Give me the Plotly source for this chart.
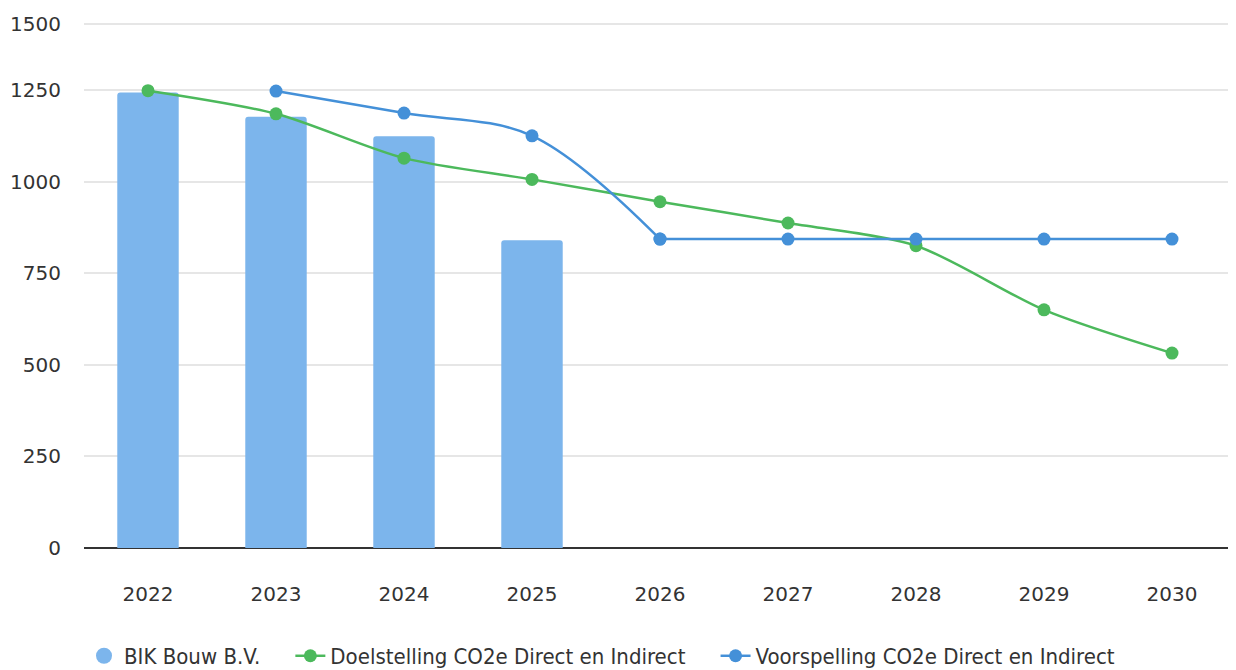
import plotly.graph_objects as go

years = ["2022", "2023", "2024", "2025", "2026", "2027", "2028", "2029", "2030"]
bar_years = ["2022", "2023", "2024", "2025"]
bik_bouw = [1243, 1177, 1124, 840]
doelstelling = [1248, 1185, 1064, 1006, 945, 887, 825, 650, 532]
voorspelling_years = ["2023", "2024", "2025", "2026", "2027", "2028", "2029", "2030"]
voorspelling = [1247, 1187, 1125, 843, 843, 843, 843, 843]

y_ticks = [0, 250, 500, 750, 1000, 1250]
y_top_tick = 1430   # top gridline, labelled 1500 as in the source chart
y_max = 1441

BAR_C = "#7cb5ec"
GREEN = "#4cb95c"
BLUE = "#4490d8"
NB = "\u00a0"

fig = go.Figure()
fig.add_trace(go.Bar(x=bar_years, y=bik_bouw, marker_color=BAR_C, name="BIK Bouw B.V.",
                     showlegend=False, marker_line_width=0))
fig.add_trace(go.Scatter(x=[None], y=[None], mode="markers", name="BIK Bouw B.V." + NB * 4,
                         marker=dict(color=BAR_C, size=18, symbol="circle")))
fig.add_trace(go.Scatter(x=years, y=doelstelling, mode="lines+markers",
                         name="Doelstelling CO2e Direct en Indirect" + NB * 4,
                         line=dict(color=GREEN, width=2.5, shape="spline", smoothing=0.8),
                         marker=dict(color=GREEN, size=13)))
# forecast: curved part up to 2026, then flat part
fig.add_trace(go.Scatter(x=voorspelling_years[:4], y=voorspelling[:4], mode="lines+markers",
                         name="Voorspelling CO2e Direct en Indirect",
                         line=dict(color=BLUE, width=2.5, shape="spline", smoothing=1.0),
                         marker=dict(color=BLUE, size=13)))
fig.add_trace(go.Scatter(x=voorspelling_years[3:], y=voorspelling[3:], mode="lines+markers",
                         showlegend=False, name="Voorspelling CO2e Direct en Indirect",
                         line=dict(color=BLUE, width=2.5),
                         marker=dict(color=BLUE, size=13)))

fig.update_layout(
    width=1228, height=662,
    margin=dict(l=76, r=0, t=12, b=122, autoexpand=False),
    paper_bgcolor="white", plot_bgcolor="white",
    bargap=0.52,
    barcornerradius=3,
    font=dict(family="DejaVu Sans", size=20, color="#333333"),
    xaxis=dict(type="category", categoryorder="array", categoryarray=years,
               range=[-0.5, 8.5], showgrid=False, showline=False, ticks="",
               automargin=False,
               tickfont=dict(size=20, color="#333333"), ticklabelstandoff=32),
    yaxis=dict(range=[0, y_max], tickvals=y_ticks + [y_top_tick],
               ticktext=[str(v) for v in y_ticks] + ["1500"],
               showgrid=True, gridcolor="#e6e6e6", gridwidth=2,
               zeroline=True, zerolinecolor="#333333", zerolinewidth=2,
               automargin=False,
               tickfont=dict(size=20, color="#333333"), ticklabelstandoff=22),
    legend=dict(orientation="h", x=0.0, xanchor="left", y=-0.2045, yanchor="middle",
                font=dict(family="DejaVu Sans Condensed", size=22, color="#333333"),
                itemwidth=30, tracegroupgap=0, traceorder="normal"),
)
fig.write_html("out.html")
